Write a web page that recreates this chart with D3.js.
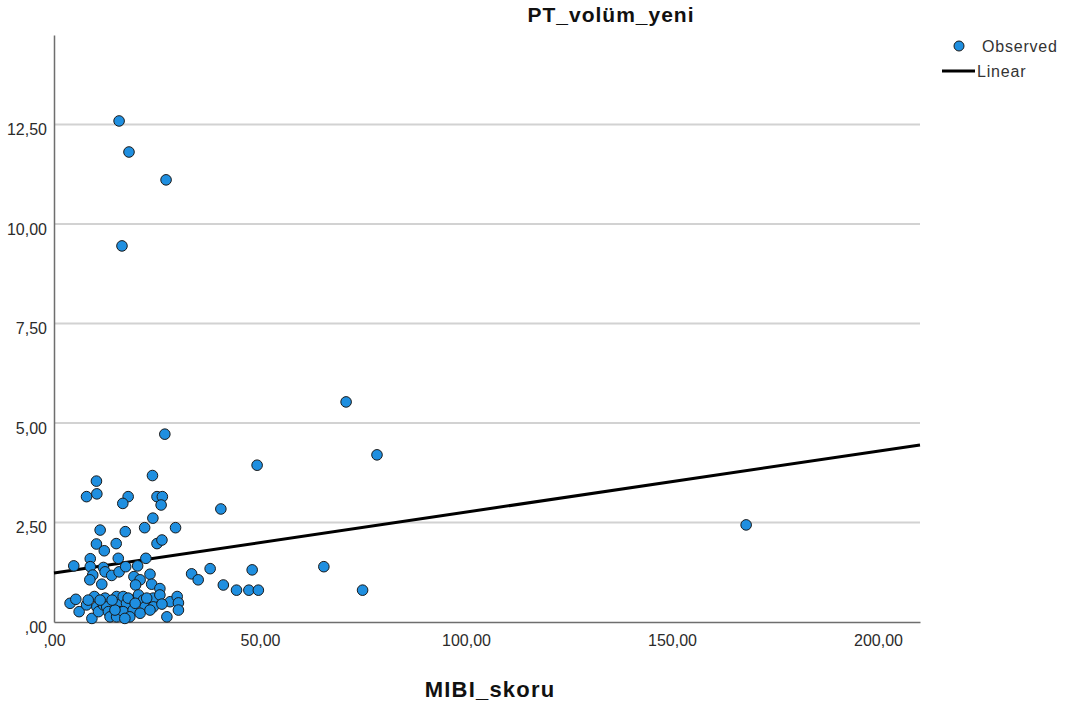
<!DOCTYPE html>
<html>
<head>
<meta charset="utf-8">
<script src="https://cdn.jsdelivr.net/npm/d3@7"></script>
<style>
  body { margin: 0; background: #fff; }
  text { font-family: "Liberation Sans", Arial, sans-serif; }
</style>
</head>
<body>
<div id="chart"></div>
<script>
// MIBI_skoru (x) and PT_volüm_yeni (y)
const mibiValues = [
  15.8, 18.2, 27.2, 16.5, 70.9, 78.4, 26.9, 49.3, 40.5, 168.0,
  65.5, 74.9, 33.4, 35.0, 37.9, 41.1, 44.3, 47.3, 49.6, 48.1,
  10.3, 7.9, 10.4, 18.0, 16.7, 23.9, 25.0, 26.3, 26.0, 24.0,
  11.2, 17.3, 22.0, 29.5, 10.3, 12.2, 15.1, 25.0, 26.2, 4.8,
  8.8, 8.8, 9.4, 8.7, 11.6, 12.0, 12.4, 14.0, 15.6, 15.8,
  17.4, 20.3, 22.3, 19.4, 20.9, 23.3, 23.7, 19.8, 25.7, 3.9,
  5.3, 6.1, 7.9, 9.2, 9.8, 10.4, 10.8, 12.0, 12.4, 12.8,
  13.2, 13.6, 15.2, 15.6, 16.0, 15.2, 16.8, 17.6, 19.2, 20.5,
  21.7, 22.1, 24.1, 24.1, 16.8, 19.2, 20.9, 18.4, 27.4, 28.2,
  29.9, 30.2, 30.2, 17.2, 23.3, 18.0, 22.5, 14.8, 19.7, 11.2,
  8.3, 14.1, 25.7, 26.2
];
const ptValues = [
  12.59, 11.81, 11.11, 9.45, 5.53, 4.20, 4.72, 3.94, 2.84, 2.44,
  1.39, 0.80, 1.21, 1.06, 1.34, 0.93, 0.80, 0.80, 0.80, 1.31,
  3.54, 3.15, 3.22, 3.15, 2.98, 3.68, 3.15, 3.15, 2.94, 2.61,
  2.31, 2.27, 2.37, 2.37, 1.96, 1.79, 1.97, 1.97, 2.06, 1.41,
  1.59, 1.39, 1.18, 1.06, 0.95, 1.37, 1.26, 1.17, 1.60, 1.26,
  1.39, 1.41, 1.60, 1.14, 1.06, 1.20, 0.95, 0.93, 0.84, 0.47,
  0.57, 0.26, 0.43, 0.09, 0.64, 0.38, 0.26, 0.43, 0.60, 0.38,
  0.26, 0.13, 0.64, 0.43, 0.26, 0.13, 0.64, 0.47, 0.55, 0.68,
  0.55, 0.38, 0.60, 0.38, 0.26, 0.30, 0.22, 0.13, 0.13, 0.51,
  0.64, 0.48, 0.30, 0.09, 0.30, 0.60, 0.60, 0.30, 0.47, 0.55,
  0.55, 0.55, 0.68, 0.45
];

// linear fit line, end points
const fitX = [0, 210.2];
const fitY = [1.23, 4.45];

const xTicks = [0, 50, 100, 150, 200];
const yTicks = [0, 2.5, 5, 7.5, 10, 12.5];

const width = 1074, height = 701;
const plotLeft = 54, plotRight = 920, plotTop = 35, plotBottom = 622;

const svg = d3.select("#chart").append("svg")
  .attr("width", width)
  .attr("height", height);

const x = d3.scaleLinear().domain([0, 210.2]).range([plotLeft, plotRight]);
const y = d3.scaleLinear().domain([0, 14.75]).range([plotBottom, plotTop]);

// 2 decimals, comma, no leading zero (SPSS style)
const fmt = v => {
  let s = d3.format(".2f")(v).replace(".", ",");
  if (s.startsWith("0,")) s = s.slice(1);
  return s;
};

// grid lines
svg.append("g")
  .selectAll("line")
  .data(yTicks.filter(d => d > 0))
  .join("line")
  .attr("x1", plotLeft)
  .attr("x2", plotRight)
  .attr("y1", d => y(d))
  .attr("y2", d => y(d))
  .attr("stroke", "#d2d2d2")
  .attr("stroke-width", 2);

// axes
const xAxis = svg.append("g")
  .attr("transform", `translate(0,${plotBottom})`)
  .call(d3.axisBottom(x).tickValues(xTicks).tickFormat(fmt).tickSize(0).tickPadding(13));
xAxis.select(".domain").attr("stroke", "#6e6e6e").attr("stroke-width", 1.5);

const yAxis = svg.append("g")
  .attr("transform", `translate(${plotLeft},0)`)
  .call(d3.axisLeft(y).tickValues(yTicks).tickFormat(fmt).tickSize(0).tickPadding(7));
yAxis.select(".domain").attr("stroke", "#6e6e6e").attr("stroke-width", 1.5);
yAxis.selectAll(".tick text").attr("dy", "0.65em");

svg.selectAll(".tick text")
  .attr("font-family", "Liberation Sans, Arial, sans-serif")
  .attr("font-size", 16)
  .attr("fill", "#2b2b2b");

// fit line
const line = d3.line().x(d => x(d[0])).y(d => y(d[1]));
svg.append("path")
  .datum(d3.zip(fitX, fitY))
  .attr("d", line)
  .attr("fill", "none")
  .attr("stroke", "#000")
  .attr("stroke-width", 3);

// observed points
svg.append("g")
  .selectAll("circle")
  .data(d3.zip(mibiValues, ptValues))
  .join("circle")
  .attr("cx", d => x(d[0]))
  .attr("cy", d => y(d[1]))
  .attr("r", 5.3)
  .attr("fill", "#1f8fe0")
  .attr("stroke", "#1a1a1a")
  .attr("stroke-width", 1);

// title
svg.append("text")
  .attr("x", 611)
  .attr("y", 22)
  .attr("text-anchor", "middle")
  .attr("font-size", 21)
  .attr("font-weight", "bold")
  .attr("letter-spacing", 1)
  .attr("fill", "#111")
  .text("PT_volüm_yeni");

// x axis title
svg.append("text")
  .attr("x", 490)
  .attr("y", 697)
  .attr("text-anchor", "middle")
  .attr("font-size", 22)
  .attr("font-weight", "bold")
  .attr("letter-spacing", 1.2)
  .attr("fill", "#111")
  .text("MIBI_skoru");

// legend
const legend = svg.append("g");
legend.append("circle")
  .attr("cx", 959)
  .attr("cy", 46)
  .attr("r", 5)
  .attr("fill", "#1f8fe0")
  .attr("stroke", "#1a1a1a");
legend.append("text")
  .attr("x", 982)
  .attr("y", 52)
  .attr("font-size", 16)
  .attr("letter-spacing", 0.8)
  .attr("fill", "#333")
  .text("Observed");
legend.append("line")
  .attr("x1", 942)
  .attr("x2", 975)
  .attr("y1", 71)
  .attr("y2", 71)
  .attr("stroke", "#000")
  .attr("stroke-width", 3);
legend.append("text")
  .attr("x", 977)
  .attr("y", 77)
  .attr("font-size", 16)
  .attr("letter-spacing", 0.8)
  .attr("fill", "#333")
  .text("Linear");
</script>
</body>
</html>
